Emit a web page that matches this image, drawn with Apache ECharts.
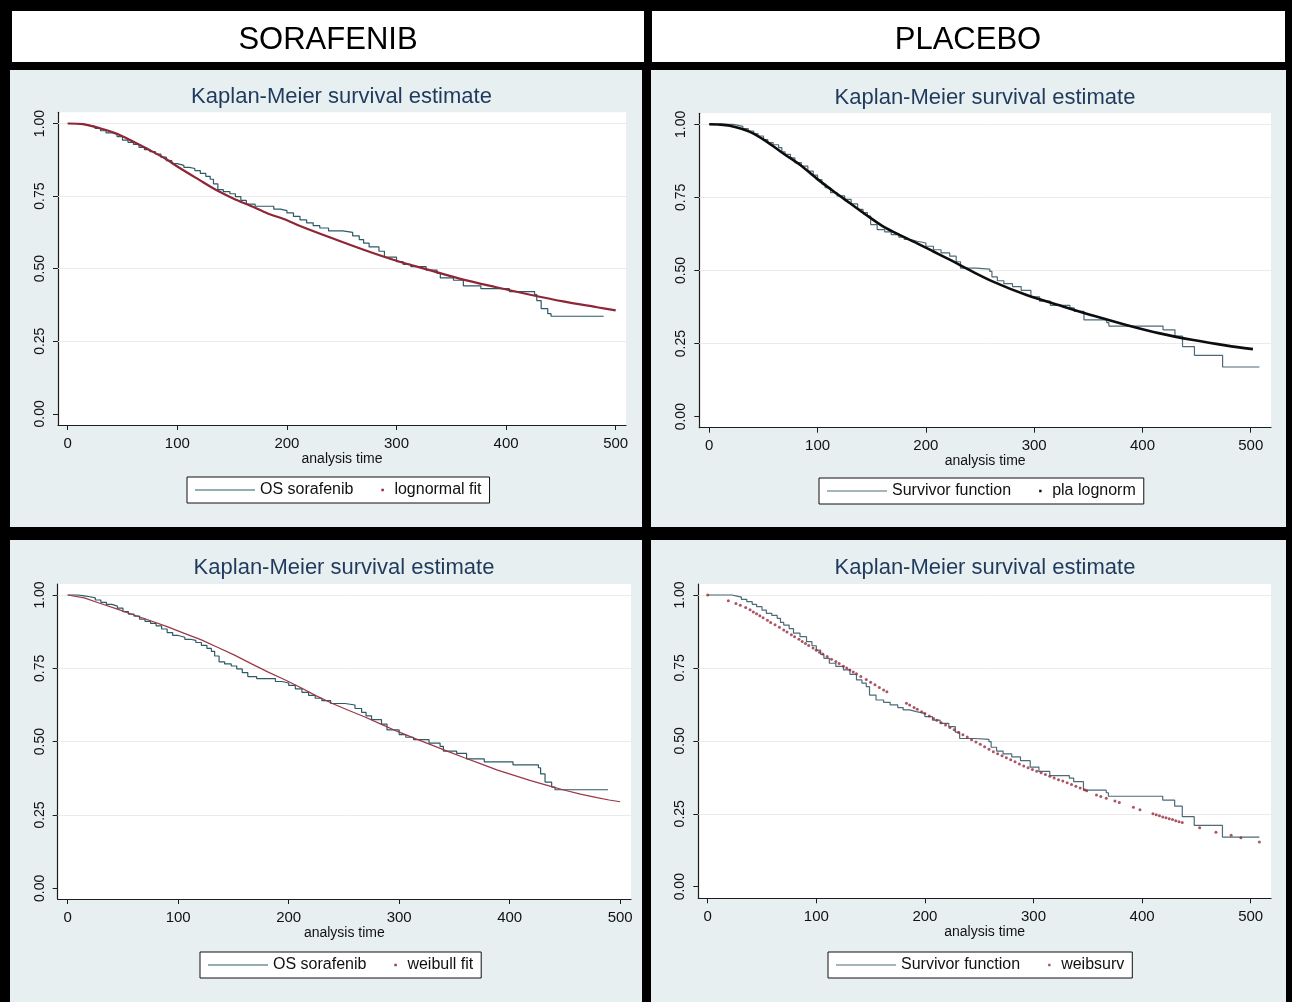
<!DOCTYPE html>
<html>
<head>
<meta charset="utf-8">
<title>Kaplan-Meier survival estimates: sorafenib vs placebo</title>
<script src="https://cdn.jsdelivr.net/npm/echarts/dist/echarts.min.js"></script>
<style>
  html, body { margin: 0; padding: 0; background: #000; }
  #chart { width: 1292px; height: 1002px; }
</style>
</head>
<body>
<div id="chart"></div>
<script>
// ---- axis ticks ----
const xTicks = [0, 100, 200, 300, 400, 500];
const yTicks = [0, 0.25, 0.5, 0.75, 1];
const yGridValues = [0.25, 0.5, 0.75, 1];

// ---- text ----
const armNames = ['SORAFENIB', 'PLACEBO'];
const panelTitle = 'Kaplan-Meier survival estimate';
const xAxisTitle = 'analysis time';

// ---- Kaplan-Meier estimate, sorafenib arm: [time, survival] at each step ----
const sorafenibKM = [
  [0, 1.000], [9, 0.997], [15, 0.994], [20, 0.990], [25, 0.983], [30, 0.975], [35, 0.968],
  [40, 0.962], [45, 0.955], [50, 0.943], [55, 0.935], [60, 0.928], [65, 0.918], [70, 0.910],
  [75, 0.903], [80, 0.895], [85, 0.884], [90, 0.872], [95, 0.862], [100, 0.856], [106, 0.849],
  [111, 0.845], [116, 0.838], [121, 0.828], [126, 0.818], [130, 0.808], [133, 0.792], [137, 0.772],
  [142, 0.765], [148, 0.758], [153, 0.748], [158, 0.735], [163, 0.722], [171, 0.715], [188, 0.705],
  [194, 0.700], [200, 0.692], [206, 0.680], [212, 0.668], [218, 0.658], [224, 0.648], [230, 0.640],
  [238, 0.630], [251, 0.625], [260, 0.613], [266, 0.600], [270, 0.588], [275, 0.575], [284, 0.560],
  [289, 0.540], [300, 0.524], [306, 0.515], [313, 0.507], [327, 0.495], [337, 0.484], [340, 0.468],
  [352, 0.460], [361, 0.441], [377, 0.431], [403, 0.421], [426, 0.411], [428, 0.390], [432, 0.362],
  [438, 0.345], [441, 0.336], [489, 0.336]
];

// ---- lognormal fit, sorafenib arm ----
const sorafenibLognormal = [
  [0, 1.000], [14, 0.998], [30, 0.983], [45, 0.965], [60, 0.937], [75, 0.908], [90, 0.877],
  [100, 0.852], [120, 0.806], [136, 0.770], [151, 0.742], [169, 0.713], [182, 0.691], [200, 0.667],
  [212, 0.647], [239, 0.608], [270, 0.565], [300, 0.527], [331, 0.494], [361, 0.462], [391, 0.436],
  [422, 0.410], [452, 0.387], [483, 0.367], [500, 0.356]
];

// ---- Weibull fit, sorafenib arm ----
const sorafenibWeibull = [
  [0, 1.000], [15, 0.990], [29, 0.972], [45, 0.952], [60, 0.932], [75, 0.912], [90, 0.892],
  [105, 0.870], [121, 0.847], [136, 0.821], [151, 0.795], [166, 0.766], [181, 0.738], [197, 0.710],
  [212, 0.682], [225, 0.656], [239, 0.631], [254, 0.607], [269, 0.584], [284, 0.559], [299, 0.534],
  [314, 0.511], [329, 0.489], [344, 0.467], [359, 0.445], [374, 0.424], [389, 0.403], [404, 0.385],
  [419, 0.367], [434, 0.351], [449, 0.335], [464, 0.321], [479, 0.309], [490, 0.301], [500, 0.295]
];

// ---- Kaplan-Meier estimate, placebo arm ----
const placeboKM = [
  [0, 1.000], [17, 1.000], [22, 0.997], [26, 0.993], [31, 0.985], [36, 0.977], [41, 0.968],
  [45, 0.960], [50, 0.948], [54, 0.937], [59, 0.930], [64, 0.920], [67, 0.906], [70, 0.897],
  [75, 0.885], [79, 0.869], [85, 0.857], [91, 0.840], [96, 0.826], [100, 0.811], [104, 0.796],
  [107, 0.783], [112, 0.766], [118, 0.755], [125, 0.743], [131, 0.728], [137, 0.709], [142, 0.698],
  [146, 0.686], [149, 0.657], [155, 0.640], [162, 0.632], [168, 0.623], [175, 0.614], [180, 0.606],
  [186, 0.600], [192, 0.594], [200, 0.583], [207, 0.571], [214, 0.560], [222, 0.549], [228, 0.530],
  [232, 0.508], [246, 0.505], [259, 0.497], [261, 0.478], [266, 0.465], [272, 0.455], [280, 0.445],
  [288, 0.432], [297, 0.410], [305, 0.395], [315, 0.381], [333, 0.372], [337, 0.360], [346, 0.331],
  [367, 0.322], [369, 0.310], [419, 0.297], [430, 0.276], [437, 0.240], [448, 0.210], [474, 0.170],
  [508, 0.170]
];

// ---- lognormal fit, placebo arm ----
const placeboLognormal = [
  [0, 1.000], [10, 0.999], [19, 0.995], [37, 0.975], [53, 0.941], [68, 0.901], [84, 0.861],
  [99, 0.815], [115, 0.770], [130, 0.730], [145, 0.690], [160, 0.652], [176, 0.621], [192, 0.593],
  [207, 0.565], [222, 0.537], [240, 0.502], [262, 0.462], [293, 0.416], [324, 0.380], [355, 0.345],
  [385, 0.314], [416, 0.285], [447, 0.262], [478, 0.243], [502, 0.231]
];

// ---- Weibull predicted survival, placebo arm (one point per event time) ----
const placeboWeibull = [
  [0, 1.000], [19, 0.980], [26, 0.971], [30, 0.965], [35, 0.957], [39, 0.949], [42, 0.942],
  [45, 0.936], [48, 0.929], [51, 0.922], [55, 0.913], [58, 0.906], [62, 0.898], [66, 0.889],
  [70, 0.880], [73, 0.873], [77, 0.864], [80, 0.857], [84, 0.848], [87, 0.841], [90, 0.834],
  [93, 0.827], [97, 0.818], [100, 0.811], [103, 0.804], [106, 0.798], [110, 0.789], [114, 0.780],
  [118, 0.772], [121, 0.765], [125, 0.756], [128, 0.750], [131, 0.743], [134, 0.736], [137, 0.730],
  [141, 0.721], [146, 0.710], [150, 0.701], [154, 0.692], [158, 0.683], [162, 0.674], [165, 0.668],
  [183, 0.629], [186, 0.623], [190, 0.614], [193, 0.608], [197, 0.600], [200, 0.594], [204, 0.585],
  [208, 0.577], [211, 0.571], [215, 0.562], [219, 0.554], [223, 0.546], [227, 0.538], [231, 0.529],
  [235, 0.521], [239, 0.513], [243, 0.504], [247, 0.496], [251, 0.488], [255, 0.480], [259, 0.471],
  [263, 0.463], [267, 0.456], [271, 0.449], [275, 0.442], [279, 0.435], [283, 0.428], [287, 0.421],
  [291, 0.414], [295, 0.408], [299, 0.402], [303, 0.396], [307, 0.391], [311, 0.385], [315, 0.379],
  [319, 0.373], [323, 0.367], [327, 0.362], [331, 0.356], [335, 0.350], [339, 0.344], [343, 0.338],
  [347, 0.332], [349, 0.329], [358, 0.314], [362, 0.309], [367, 0.303], [375, 0.294], [379, 0.289],
  [392, 0.272], [398, 0.264], [410, 0.250], [413, 0.247], [416, 0.243], [419, 0.239], [422, 0.236],
  [425, 0.233], [428, 0.230], [431, 0.226], [434, 0.223], [437, 0.220], [453, 0.202], [468, 0.187],
  [482, 0.176], [491, 0.168], [508, 0.153]
];

// ---- styling ----
const FONT = "'Liberation Sans', Arial, Helvetica, sans-serif";
const PANEL_BG = '#e8eff1';
const AXIS_COLOR = '#1c1c1c';
const KM_SORA = '#2c5a66';
const KM_PLA = '#4d6a77';
const FIT_RED = '#8f2636';

// legend markers: two invisible corner specks fix the 60x12 box
const CORNERS = 'M0,0h0.01v0.01h-0.01Z M59.99,11.99h0.01v0.01h-0.01Z ';
const LINE_ICON = 'path://' + CORNERS + 'M0,5.4h60v1.2h-60Z';
const DOT_ICON = 'path://' + CORNERS + 'M52,4.8h2.4v2.4h-2.4Z';

// four plot regions: [left, top, width, height] plus axis ranges
const panels = [
  { rect: [58, 112.3, 568, 312.7],      x: [-8.85, 509.4], y: [-0.0386, 1.0386], title: [341.5, 97], legendAt: [187, 477] },
  { rect: [699.3, 113.3, 571.7, 314.4], x: [-9.23, 518.7], y: [-0.0376, 1.0376], title: [985, 98],   legendAt: [819, 478] },
  { rect: [57.7, 584, 573.3, 315],      x: [-9.05, 509.8], y: [-0.0365, 1.0375], title: [344, 568],  legendAt: [200, 952] },
  { rect: [698.3, 584, 572.7, 314.3],   x: [-8.66, 518.7], y: [-0.0398, 1.0377], title: [985, 568],  legendAt: [828, 952] }
];

const grids = panels.map(p => ({
  left: p.rect[0], top: p.rect[1], width: p.rect[2], height: p.rect[3],
  show: true, backgroundColor: '#ffffff', borderWidth: 0
}));

const xAxes = panels.map((p, i) => ({
  type: 'value', gridIndex: i, min: p.x[0], max: p.x[1],
  axisLine: { show: true, onZero: false, lineStyle: { color: AXIS_COLOR, width: 1.2 } },
  axisTick: { show: true, length: 5, customValues: xTicks, lineStyle: { color: AXIS_COLOR, width: 1 } },
  axisLabel: { customValues: xTicks, color: '#111', fontSize: 15, fontFamily: FONT, margin: 11 },
  splitLine: { show: false },
  name: xAxisTitle, nameLocation: 'middle', nameGap: 25,
  nameTextStyle: { color: '#111', fontSize: 14, fontFamily: FONT }
}));

const yAxes = panels.map((p, i) => ({
  type: 'value', gridIndex: i, min: p.y[0], max: p.y[1],
  axisLine: { show: true, onZero: false, lineStyle: { color: AXIS_COLOR, width: 1.2 } },
  axisTick: { show: true, length: 5, customValues: yTicks, lineStyle: { color: AXIS_COLOR, width: 1 } },
  axisLabel: {
    customValues: yTicks, rotate: 90, color: '#111', fontSize: 14, fontFamily: FONT, margin: 11,
    formatter: v => Number(v).toFixed(2)
  },
  splitLine: { show: false }
}));

// horizontal grid lines, one helper series per plot, kept underneath the curves
const gridLineSeries = panels.map((p, i) => ({
  type: 'line', xAxisIndex: i, yAxisIndex: i, data: [[0, 1]], showSymbol: false,
  lineStyle: { opacity: 0 }, silent: true, z: 1, legendHoverLink: false,
  markLine: {
    z: 1, silent: true, symbol: ['none', 'none'], label: { show: false },
    lineStyle: { color: '#ebebeb', width: 1, type: 'solid' },
    data: yGridValues.map(v => ({ yAxis: v }))
  }
}));

function kmSeries(name, data, idx, color) {
  return {
    name, type: 'line', xAxisIndex: idx, yAxisIndex: idx, data, step: 'end',
    symbol: 'none', lineStyle: { color, width: 1.2 }, itemStyle: { color }, z: 3
  };
}
function fitLine(name, data, idx, color, width, smooth) {
  return {
    name, type: 'line', xAxisIndex: idx, yAxisIndex: idx, data, smooth,
    symbol: 'none', lineStyle: { color, width }, itemStyle: { color }, z: 4
  };
}

const series = [
  ...gridLineSeries,
  kmSeries('OS sorafenib', sorafenibKM, 0, KM_SORA),
  fitLine('lognormal fit', sorafenibLognormal, 0, FIT_RED, 2.2, 0.3),
  kmSeries('Survivor function', placeboKM, 1, KM_PLA),
  fitLine('pla lognorm', placeboLognormal, 1, '#0d0d0d', 2.6, 0.3),
  kmSeries('OS sorafenib', sorafenibKM, 2, KM_SORA),
  fitLine('weibull fit', sorafenibWeibull, 2, '#9c3645', 1.2, false),
  kmSeries('Survivor function', placeboKM, 3, KM_PLA),
  {
    name: 'weibsurv', type: 'scatter', xAxisIndex: 3, yAxisIndex: 3, data: placeboWeibull,
    symbol: 'circle', symbolSize: 3, itemStyle: { color: '#962c3b' }, z: 4
  }
];

const legendPairs = [
  ['OS sorafenib', 'lognormal fit'],
  ['Survivor function', 'pla lognorm'],
  ['OS sorafenib', 'weibull fit'],
  ['Survivor function', 'weibsurv']
];

const legends = panels.map((p, i) => ({
  left: p.legendAt[0], top: p.legendAt[1], orient: 'horizontal', selectedMode: false,
  backgroundColor: '#ffffff', borderColor: '#111', borderWidth: 1, borderRadius: 0,
  padding: [5, 8], itemWidth: 60, itemHeight: 12, itemGap: -24,
  textStyle: { color: '#111', fontSize: 16, fontFamily: FONT },
  data: [
    { name: legendPairs[i][0], icon: LINE_ICON, itemStyle: { borderWidth: 0 } },
    { name: legendPairs[i][1], icon: DOT_ICON, itemStyle: { borderWidth: 0 } }
  ]
}));

// frame: header boxes, panel backgrounds, titles
const graphics = [
  { type: 'rect', shape: { x: 12, y: 11, width: 632, height: 51 }, style: { fill: '#ffffff' }, z: -10 },
  { type: 'rect', shape: { x: 652, y: 11, width: 633, height: 51 }, style: { fill: '#ffffff' }, z: -10 },
  { type: 'rect', shape: { x: 10, y: 70, width: 632, height: 457 }, style: { fill: PANEL_BG }, z: -10 },
  { type: 'rect', shape: { x: 651, y: 70, width: 635, height: 457 }, style: { fill: PANEL_BG }, z: -10 },
  { type: 'rect', shape: { x: 10, y: 540, width: 632, height: 462 }, style: { fill: PANEL_BG }, z: -10 },
  { type: 'rect', shape: { x: 651, y: 540, width: 635, height: 462 }, style: { fill: PANEL_BG }, z: -10 },
  { type: 'text', x: 328, y: 40, style: { text: armNames[0], fill: '#000', font: '31px ' + FONT, align: 'center', verticalAlign: 'middle' } },
  { type: 'text', x: 968, y: 40, style: { text: armNames[1], fill: '#000', font: '31px ' + FONT, align: 'center', verticalAlign: 'middle' } },
  ...panels.map(p => ({
    type: 'text', x: p.title[0], y: p.title[1],
    style: { text: panelTitle, fill: '#1f3a5c', font: '22px ' + FONT, align: 'center', verticalAlign: 'middle' }
  }))
];

const chart = echarts.init(document.getElementById('chart'), null, { renderer: 'canvas' });
chart.setOption({
  backgroundColor: '#000000',
  animation: false,
  grid: grids,
  xAxis: xAxes,
  yAxis: yAxes,
  legend: legends,
  graphic: graphics,
  series
});
</script>
</body>
</html>
